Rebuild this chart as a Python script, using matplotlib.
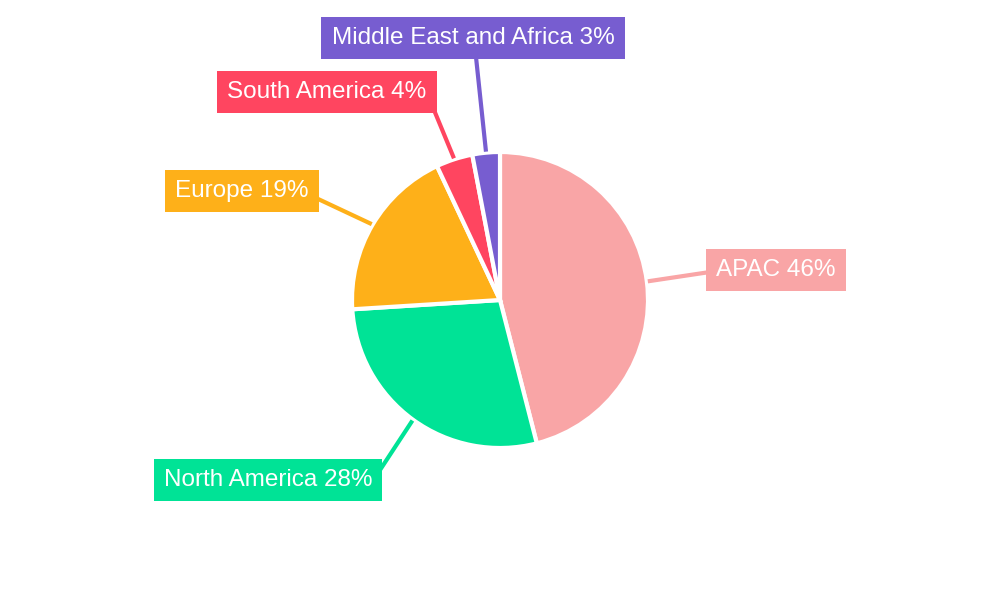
import numpy as np
import matplotlib

matplotlib.use("Agg")
import matplotlib.pyplot as plt

# data
regions = ["APAC", "North America", "Europe", "South America", "Middle East and Africa"]
shares = [46, 28, 19, 4, 3]
colors = ["#F9A5A6", "#00E396", "#FEB019", "#FF4560", "#775DD0"]

# layout only: label box centres and leader-line ends, pixels from top-left
label_pos = [(776, 270), (268, 480), (242, 191), (327, 92), (473, 38)]
line_end = [(710, 272), (380, 470), (316, 198), (434, 110), (476, 57)]

W, H = 1000, 600
CX, CY, R = 500, 300, 148

plt.rcParams["font.family"] = ["Liberation Sans", "DejaVu Sans"]

fig = plt.figure(figsize=(10, 6), dpi=100)
fig.patch.set_facecolor("white")
ax = fig.add_axes([0, 0, 1, 1])

wedges, _ = ax.pie(
    shares,
    colors=colors,
    startangle=90,
    counterclock=False,
    center=(CX, H - CY),
    radius=R,
    wedgeprops=dict(edgecolor="white", linewidth=3),
    frame=True,
)
ax.set_axis_off()
ax.set_xlim(0, W)
ax.set_ylim(0, H)
ax.set_aspect("equal")

for w, name, val, col, (lx, ly), (ex, ey) in zip(
    wedges, regions, shares, colors, label_pos, line_end
):
    mid = np.deg2rad((w.theta1 + w.theta2) / 2)
    px = CX + (R + 1) * np.cos(mid)
    py = (H - CY) + (R + 1) * np.sin(mid)
    ax.plot([px, ex], [py, H - ey], color=col, lw=3, solid_capstyle="butt", zorder=4)
    ax.text(
        lx,
        H - ly,
        f"{name} {val}%",
        ha="center",
        va="center",
        fontsize=17.5,
        color="white",
        bbox=dict(boxstyle="square,pad=0.42", fc=col, ec="none"),
        zorder=5,
    )

fig.savefig("out.png", dpi=100, facecolor="white")
